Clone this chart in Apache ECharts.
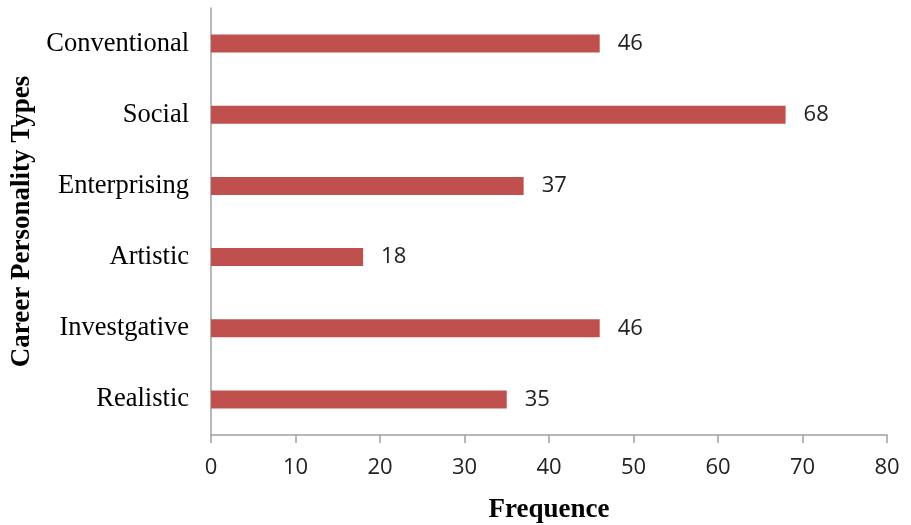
<!DOCTYPE html>
<html>
<head>
<meta charset="utf-8">
<script src="https://cdn.jsdelivr.net/npm/echarts@6/dist/echarts.min.js"></script>
<style>
	html, body { margin: 0; padding: 0; background: #fff; }
</style>
</head>
<body>
<div id="myChart" style="width: 911px; height: 525px;"></div>
<script>
	// categories from bottom to top
	var categories = ['Realistic', 'Investgative', 'Artistic', 'Enterprising', 'Social', 'Conventional']
	var frequence = [35, 46, 18, 37, 68, 46]

	var myChart = echarts.init(document.getElementById('myChart'))
	myChart.setOption({
		animation: false,
		grid: {
			left: 211,
			right: 24,
			top: 8,
			bottom: 90,
			containLabel: false,
			outerBoundsMode: 'none'
		},
		xAxis: {
			type: 'value',
			min: 0,
			max: 80,
			interval: 10,
			name: 'Frequence',
			nameLocation: 'middle',
			nameGap: 62,
			nameTextStyle: {
				fontFamily: 'Liberation Serif',
				fontWeight: 'bold',
				fontSize: 27,
				color: '#000'
			},
			axisLine: {
				show: true,
				lineStyle: { color: '#a0a0a0', width: 1.5 }
			},
			axisTick: {
				show: true,
				length: 8,
				lineStyle: { color: '#a0a0a0', width: 1.5 }
			},
			axisLabel: {
				margin: 22,
				fontFamily: 'Open Sans',
				fontSize: 22,
				color: '#222'
			},
			splitLine: { show: false }
		},
		yAxis: {
			type: 'category',
			data: categories,
			name: 'Career Personality Types',
			nameLocation: 'middle',
			nameGap: 167,
			nameTextStyle: {
				fontFamily: 'Liberation Serif',
				fontWeight: 'bold',
				fontSize: 27,
				color: '#000'
			},
			axisLine: {
				show: true,
				lineStyle: { color: '#a0a0a0', width: 1.5 }
			},
			axisTick: { show: false },
			axisLabel: {
				margin: 22,
				fontFamily: 'Liberation Serif',
				fontSize: 26.5,
				color: '#000'
			}
		},
		series: [{
			type: 'bar',
			data: frequence,
			barWidth: 18,
			itemStyle: { color: '#c0504d' },
			label: {
				show: true,
				position: 'right',
				distance: 18,
				fontFamily: 'Open Sans',
				fontSize: 22,
				color: '#222'
			}
		}]
	})
</script>
</body>
</html>
